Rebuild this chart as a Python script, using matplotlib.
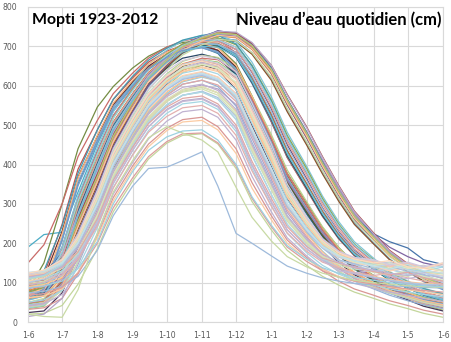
import numpy as np
import matplotlib.pyplot as plt
from matplotlib.colors import to_rgb

# sample days counted from 1 June (1st and ~15th of each month)
days = [0, 14, 30, 44, 61, 75, 92, 106, 122, 136, 153, 167, 183,
        197, 214, 228, 245, 259, 273, 287, 304, 318, 334, 348, 365]
month_days = [0, 30, 61, 92, 122, 153, 183, 214, 245, 273, 304, 334, 365]
month_labels = ['1-6', '1-7', '1-8', '1-9', '1-10', '1-11', '1-12',
                '1-1', '1-2', '1-3', '1-4', '1-5', '1-6']

# water level at Mopti (cm), one row per hydrological year
levels_1920s = [
    [72, 80, 162, 292, 412, 505, 576, 630, 668, 694, 708, 706, 680, 618, 524, 434, 350, 280, 222, 176, 140, 112, 88, 70, 56],
    [88, 120, 248, 388, 488, 565, 620, 660, 688, 702, 706, 690, 638, 552, 444, 354, 280, 222, 176, 142, 112, 90, 72, 58, 48],
    [46, 52, 104, 190, 300, 402, 494, 566, 616, 650, 666, 660, 628, 560, 462, 372, 294, 232, 184, 146, 116, 92, 72, 56, 44],
    [100, 112, 168, 268, 378, 475, 556, 616, 660, 694, 722, 740, 732, 702, 642, 565, 482, 410, 340, 276, 222, 190, 166, 150, 140],
    [190, 222, 228, 330, 452, 535, 598, 642, 675, 694, 700, 688, 645, 566, 460, 368, 292, 232, 184, 148, 118, 96, 78, 64, 52],
    [85, 96, 146, 245, 355, 456, 542, 606, 652, 688, 712, 726, 722, 692, 630, 552, 468, 396, 328, 266, 214, 172, 140, 114, 94],
    [64, 74, 150, 278, 400, 496, 570, 626, 666, 692, 706, 702, 672, 606, 508, 418, 338, 270, 214, 170, 136, 108, 86, 68, 54],
]
levels_1930s = [
    [38, 44, 92, 176, 284, 388, 480, 552, 604, 640, 658, 652, 618, 546, 446, 358, 284, 224, 176, 138, 108, 84, 64, 48, 36],
    [80, 150, 300, 440, 546, 598, 645, 675, 698, 710, 714, 700, 656, 574, 468, 378, 302, 240, 190, 150, 118, 94, 76, 62, 50],
    [90, 104, 190, 316, 434, 524, 592, 642, 678, 702, 715, 714, 692, 634, 542, 450, 364, 290, 230, 182, 144, 114, 92, 76, 62],
    [56, 84, 210, 352, 462, 546, 606, 648, 678, 694, 698, 682, 630, 544, 436, 346, 274, 216, 170, 134, 104, 82, 64, 50, 38],
    [78, 88, 168, 294, 414, 508, 580, 634, 672, 697, 710, 708, 684, 622, 528, 436, 352, 282, 224, 178, 142, 112, 90, 74, 62],
    [70, 80, 132, 228, 340, 442, 530, 598, 646, 682, 706, 720, 716, 684, 620, 540, 456, 382, 314, 252, 200, 160, 128, 102, 82],
    [150, 196, 300, 420, 512, 580, 632, 670, 698, 714, 722, 716, 684, 612, 510, 418, 336, 268, 212, 168, 134, 108, 88, 74, 64],
    [34, 40, 88, 172, 278, 380, 470, 544, 598, 634, 652, 648, 618, 552, 456, 368, 292, 230, 180, 140, 108, 82, 62, 44, 30],
    [96, 106, 156, 258, 372, 472, 556, 618, 662, 696, 718, 730, 726, 698, 638, 560, 476, 404, 336, 272, 218, 176, 142, 116, 96],
    [76, 86, 164, 290, 410, 504, 576, 630, 669, 694, 707, 704, 678, 614, 518, 428, 346, 276, 218, 172, 136, 108, 86, 70, 56],
]
levels_1940s = [
    [40, 46, 100, 200, 318, 424, 512, 578, 626, 656, 668, 654, 604, 514, 406, 322, 254, 200, 158, 124, 98, 78, 60, 46, 34],
    [60, 70, 140, 258, 376, 472, 548, 604, 645, 670, 680, 670, 628, 548, 442, 352, 278, 218, 172, 136, 106, 84, 66, 52, 42],
    [82, 110, 230, 368, 472, 552, 610, 650, 680, 696, 702, 690, 648, 570, 466, 374, 296, 234, 184, 146, 116, 92, 74, 60, 50],
    [50, 56, 104, 196, 306, 410, 498, 568, 618, 650, 664, 656, 620, 546, 444, 354, 280, 220, 172, 136, 106, 84, 66, 52, 40],
    [24, 28, 74, 170, 290, 400, 490, 560, 610, 642, 654, 640, 590, 500, 394, 312, 246, 194, 152, 120, 94, 74, 56, 40, 28],
    [66, 78, 158, 284, 404, 498, 570, 625, 664, 690, 703, 700, 674, 610, 514, 422, 340, 270, 214, 170, 134, 106, 86, 70, 58],
    [74, 84, 136, 236, 348, 450, 536, 602, 648, 684, 706, 718, 712, 680, 614, 534, 450, 376, 308, 248, 198, 158, 128, 104, 86],
    [58, 86, 214, 356, 464, 546, 604, 645, 675, 692, 698, 686, 642, 562, 456, 366, 290, 228, 180, 142, 112, 88, 70, 56, 46],
    [90, 102, 186, 312, 432, 524, 594, 645, 681, 706, 719, 718, 698, 644, 554, 462, 378, 304, 242, 192, 152, 120, 98, 82, 70],
    [62, 68, 120, 214, 326, 428, 514, 582, 630, 662, 677, 672, 642, 574, 476, 386, 306, 242, 190, 150, 118, 94, 76, 62, 52],
]
levels_1950s = [
    [70, 82, 140, 244, 358, 462, 550, 616, 662, 696, 718, 732, 730, 702, 642, 566, 484, 410, 340, 276, 222, 178, 144, 116, 94],
    [85, 100, 190, 320, 442, 534, 604, 655, 690, 714, 728, 730, 712, 660, 572, 482, 396, 320, 256, 204, 162, 128, 104, 86, 72],
    [62, 92, 224, 366, 474, 556, 614, 655, 685, 702, 708, 696, 652, 572, 468, 376, 298, 236, 186, 148, 116, 92, 74, 60, 50],
    [110, 122, 176, 276, 386, 484, 566, 628, 672, 704, 726, 738, 734, 706, 646, 566, 482, 406, 332, 266, 224, 204, 188, 158, 146],
    [95, 106, 160, 262, 376, 478, 562, 624, 668, 700, 722, 736, 734, 708, 652, 578, 496, 420, 348, 282, 226, 182, 148, 120, 98],
    [75, 88, 172, 302, 424, 518, 590, 642, 680, 706, 720, 722, 704, 652, 564, 474, 390, 314, 250, 198, 158, 126, 102, 84, 70],
    [58, 68, 124, 226, 342, 446, 534, 602, 652, 690, 714, 728, 724, 694, 632, 552, 468, 392, 322, 260, 208, 168, 136, 110, 88],
    [105, 130, 244, 378, 488, 566, 624, 665, 695, 716, 728, 728, 706, 650, 560, 468, 382, 308, 246, 196, 156, 124, 100, 84, 72],
    [80, 92, 148, 252, 366, 468, 554, 618, 664, 698, 720, 734, 730, 700, 638, 558, 474, 398, 328, 264, 212, 170, 138, 112, 92],
    [55, 66, 146, 274, 398, 494, 568, 624, 665, 692, 707, 706, 684, 626, 534, 444, 360, 288, 228, 180, 142, 112, 90, 72, 58],
]
levels_1960s = [
    [68, 80, 162, 290, 412, 506, 578, 632, 671, 697, 712, 712, 692, 636, 546, 456, 372, 298, 236, 186, 148, 118, 94, 76, 62],
    [50, 60, 116, 216, 330, 434, 522, 590, 640, 678, 704, 718, 714, 684, 622, 542, 458, 384, 316, 256, 206, 166, 134, 108, 86],
    [100, 112, 170, 272, 384, 482, 564, 626, 670, 702, 724, 738, 736, 710, 652, 576, 494, 418, 346, 280, 224, 180, 146, 120, 100],
    [84, 96, 178, 306, 426, 518, 588, 640, 677, 702, 716, 716, 698, 644, 556, 466, 382, 308, 246, 196, 156, 124, 100, 82, 68],
    [72, 84, 140, 242, 356, 458, 544, 610, 656, 690, 714, 728, 724, 694, 634, 556, 472, 396, 326, 264, 212, 170, 138, 112, 92],
    [60, 84, 206, 346, 456, 540, 600, 642, 672, 690, 696, 684, 640, 558, 452, 362, 286, 226, 178, 140, 110, 88, 70, 56, 46],
    [48, 54, 106, 200, 312, 416, 504, 572, 622, 654, 670, 666, 636, 566, 466, 376, 298, 234, 184, 144, 112, 88, 68, 52, 40],
    [88, 98, 152, 256, 370, 472, 558, 620, 666, 700, 722, 734, 730, 702, 642, 564, 480, 404, 334, 270, 216, 174, 140, 114, 94],
    [42, 48, 98, 190, 302, 406, 494, 562, 612, 644, 660, 654, 620, 548, 448, 360, 286, 226, 178, 140, 110, 86, 66, 50, 38],
    [56, 66, 144, 270, 392, 488, 562, 618, 659, 686, 700, 698, 674, 612, 518, 428, 346, 276, 218, 172, 136, 108, 86, 70, 56],
]
levels_1970s = [
    [60, 66, 112, 204, 318, 420, 502, 564, 610, 640, 654, 646, 604, 520, 416, 328, 256, 200, 158, 126, 100, 80, 64, 52, 42],
    [38, 44, 84, 166, 280, 384, 468, 530, 576, 604, 614, 598, 548, 456, 354, 270, 208, 164, 130, 104, 84, 68, 54, 44, 34],
    [32, 36, 60, 122, 218, 316, 396, 452, 492, 514, 520, 496, 440, 354, 270, 208, 164, 130, 104, 84, 68, 54, 42, 30, 20],
    [20, 22, 42, 96, 186, 280, 358, 414, 454, 474, 478, 452, 390, 306, 234, 182, 144, 116, 94, 76, 60, 46, 34, 22, 12],
    [14, 20, 60, 146, 262, 366, 450, 514, 560, 590, 602, 592, 552, 466, 362, 278, 214, 170, 136, 110, 90, 74, 60, 48, 38],
    [36, 42, 84, 166, 280, 386, 470, 534, 580, 610, 622, 612, 572, 488, 384, 296, 228, 180, 144, 116, 96, 80, 66, 54, 44],
    [42, 50, 92, 176, 290, 394, 476, 538, 584, 612, 624, 612, 568, 480, 376, 290, 224, 178, 142, 116, 96, 80, 66, 54, 44],
    [44, 48, 80, 152, 258, 362, 444, 506, 550, 576, 586, 570, 522, 434, 338, 260, 202, 160, 128, 104, 86, 72, 60, 50, 40],
    [40, 46, 86, 164, 278, 382, 466, 530, 576, 604, 614, 602, 560, 474, 370, 284, 218, 172, 138, 112, 92, 76, 62, 50, 40],
    [38, 44, 80, 154, 264, 370, 452, 514, 560, 586, 596, 582, 536, 448, 348, 266, 206, 162, 130, 106, 88, 74, 62, 50, 40],
]
levels_1980s = [
    [40, 46, 70, 126, 224, 325, 405, 465, 510, 534, 540, 520, 462, 370, 280, 214, 168, 136, 114, 98, 86, 76, 68, 60, 52],
    [50, 56, 80, 138, 240, 342, 425, 486, 530, 554, 560, 540, 484, 390, 296, 225, 176, 144, 122, 106, 94, 84, 76, 70, 64],
    [62, 66, 84, 126, 214, 308, 388, 445, 486, 508, 512, 488, 428, 340, 260, 200, 160, 134, 116, 104, 96, 88, 82, 76, 70],
    [74, 78, 90, 116, 182, 270, 345, 390, 393, 410, 432, 345, 225, 200, 168, 142, 124, 112, 104, 98, 94, 92, 90, 88, 86],
    [68, 72, 88, 124, 200, 290, 366, 420, 458, 478, 480, 455, 396, 314, 242, 190, 154, 130, 114, 104, 96, 90, 84, 80, 76],
    [20, 14, 12, 82, 226, 330, 410, 468, 496, 480, 462, 432, 342, 266, 206, 166, 140, 124, 114, 106, 100, 96, 92, 90, 88],
    [86, 90, 108, 158, 248, 352, 436, 496, 540, 562, 568, 548, 492, 398, 304, 234, 186, 156, 136, 122, 112, 104, 98, 94, 90],
    [88, 92, 104, 136, 204, 300, 382, 436, 470, 485, 488, 462, 400, 318, 246, 194, 160, 138, 124, 114, 106, 100, 96, 92, 90],
    [90, 95, 114, 168, 266, 372, 458, 520, 564, 590, 598, 582, 534, 442, 340, 258, 200, 164, 140, 126, 116, 108, 102, 98, 96],
    [94, 100, 118, 166, 258, 360, 446, 508, 552, 576, 584, 566, 515, 424, 324, 248, 194, 160, 138, 124, 114, 106, 100, 96, 94],
]
levels_1990s = [
    [95, 102, 120, 160, 244, 340, 424, 482, 522, 544, 550, 530, 474, 384, 294, 226, 180, 152, 138, 126, 118, 124, 112, 104, 96],
    [98, 104, 126, 176, 268, 368, 454, 516, 560, 584, 592, 576, 526, 434, 336, 256, 200, 164, 146, 132, 140, 122, 116, 128, 112],
    [100, 108, 124, 166, 252, 352, 436, 496, 538, 560, 566, 546, 492, 400, 306, 234, 186, 156, 130, 124, 132, 116, 110, 118, 104],
    [102, 110, 130, 172, 262, 362, 448, 508, 552, 576, 584, 566, 514, 422, 324, 248, 194, 160, 150, 136, 128, 134, 120, 126, 110],
    [104, 112, 138, 200, 306, 410, 498, 562, 608, 636, 648, 640, 604, 520, 414, 318, 246, 196, 166, 150, 142, 130, 136, 124, 132],
    [110, 116, 140, 194, 292, 396, 484, 546, 592, 618, 628, 616, 574, 486, 384, 296, 232, 188, 156, 146, 128, 136, 122, 116, 100],
    [112, 120, 144, 198, 296, 400, 488, 552, 598, 624, 634, 622, 580, 492, 390, 300, 234, 190, 170, 152, 146, 134, 140, 128, 124],
    [114, 120, 136, 180, 272, 374, 460, 522, 566, 590, 598, 582, 532, 440, 340, 260, 204, 168, 148, 140, 126, 120, 130, 116, 106],
    [108, 116, 148, 212, 316, 420, 508, 572, 618, 646, 658, 650, 616, 534, 430, 332, 256, 204, 176, 160, 148, 152, 138, 144, 130],
    [116, 124, 154, 220, 326, 430, 518, 582, 628, 654, 666, 658, 626, 546, 442, 342, 264, 210, 180, 162, 156, 140, 148, 136, 142],
]
levels_2000s = [
    [120, 126, 146, 198, 298, 402, 490, 554, 600, 626, 636, 622, 578, 490, 388, 298, 234, 190, 166, 150, 144, 130, 138, 126, 118],
    [116, 122, 144, 194, 292, 394, 480, 544, 590, 616, 626, 612, 566, 478, 378, 292, 230, 188, 158, 148, 136, 142, 128, 120, 112],
    [116, 122, 138, 178, 262, 360, 444, 504, 546, 568, 574, 554, 500, 408, 314, 242, 192, 162, 150, 138, 128, 120, 126, 112, 104],
    [108, 116, 146, 206, 312, 416, 504, 568, 614, 642, 654, 644, 608, 526, 422, 326, 252, 202, 172, 156, 148, 136, 142, 128, 122],
    [114, 120, 140, 188, 282, 382, 466, 528, 572, 596, 604, 588, 540, 450, 350, 268, 210, 172, 152, 140, 132, 124, 118, 126, 110],
    [110, 118, 146, 204, 306, 410, 496, 560, 606, 632, 642, 630, 590, 504, 402, 310, 240, 194, 170, 154, 146, 150, 134, 128, 140],
    [118, 124, 150, 208, 312, 414, 500, 564, 610, 636, 646, 636, 598, 514, 412, 318, 246, 198, 172, 160, 152, 140, 148, 136, 130],
    [120, 126, 148, 200, 298, 400, 486, 548, 594, 620, 630, 616, 574, 488, 388, 300, 234, 190, 164, 156, 140, 146, 132, 124, 116],
    [120, 128, 156, 216, 322, 426, 514, 578, 624, 652, 664, 656, 622, 540, 436, 338, 260, 208, 178, 162, 154, 142, 150, 138, 146],
    [122, 128, 152, 210, 314, 418, 506, 570, 616, 644, 655, 645, 608, 524, 422, 326, 252, 202, 170, 152, 144, 150, 136, 142, 128],
]
levels_2010s = [
    [122, 130, 160, 224, 334, 440, 528, 592, 638, 664, 676, 668, 636, 556, 452, 350, 268, 212, 180, 164, 158, 146, 152, 140, 150],
    [126, 130, 150, 202, 300, 402, 488, 550, 596, 622, 632, 618, 576, 490, 390, 302, 236, 192, 168, 156, 142, 134, 146, 130, 124],
    [124, 132, 158, 216, 324, 428, 516, 580, 626, 652, 662, 652, 616, 532, 430, 334, 258, 206, 176, 160, 150, 156, 140, 136, 150],
]

levels = (levels_1920s + levels_1930s + levels_1940s + levels_1950s +
          levels_1960s + levels_1970s + levels_1980s + levels_1990s +
          levels_2000s + levels_2010s)

# office-style series colours: six accents, then darker / lighter shades
accents = ['#4F81BD', '#C0504D', '#9BBB59', '#8064A2', '#4BACC6', '#F79646']
shades = [0.0, -0.25, 0.15, -0.45, 0.3, -0.1, 0.45, 0.2, 0.4,
          0.5, 0.45, 0.55, 0.6, 0.5, 0.65]


def shade(c, f):
    rgb = np.array(to_rgb(c))
    if f < 0:
        return tuple(rgb * (1 + f))
    return tuple(rgb + (1 - rgb) * f)


fig = plt.figure(figsize=(4.51, 3.42), dpi=100)
ax = fig.add_axes([28 / 451, 20 / 342, 415 / 451, 315 / 342])

for i, lv in enumerate(levels):
    col = shade(accents[i % 6], shades[(i // 6) % len(shades)])
    ax.plot(days, lv, color=col, lw=0.9, solid_joinstyle='round', zorder=2)

ax.set_xlim(0, 365)
ax.set_ylim(0, 800)
ax.set_xticks(month_days)
ax.set_xticklabels(month_labels)
ax.set_yticks(range(0, 801, 100))
ax.grid(True, color='#D9D9D9', lw=0.8, zorder=0)
ax.set_axisbelow(True)
for s in ax.spines.values():
    s.set_color('#D9D9D9')
    s.set_linewidth(0.8)
ax.tick_params(length=0, labelsize=5.6, labelcolor='#595959')
ax.tick_params(axis='x', pad=6.5)
ax.tick_params(axis='y', pad=8)

# titles, sized to their pixel widths (left block and right block)
t1 = fig.text(32 / 451, 1 - 20 / 342, 'Mopti 1923-2012', fontsize=10.5,
              fontweight='bold', family='Lato', va='center', ha='left')
t2 = fig.text(441 / 451, 1 - 20 / 342, 'Niveau d\u2019eau quotidien (cm)',
              fontsize=10.5, fontweight='bold', family='Lato', va='center', ha='right')
renderer = fig.canvas.get_renderer()
for t, width in ((t1, 127), (t2, 208)):
    w = t.get_window_extent(renderer).width
    t.set_fontsize(10.5 * width / w)

fig.savefig('out.png', dpi=100)
